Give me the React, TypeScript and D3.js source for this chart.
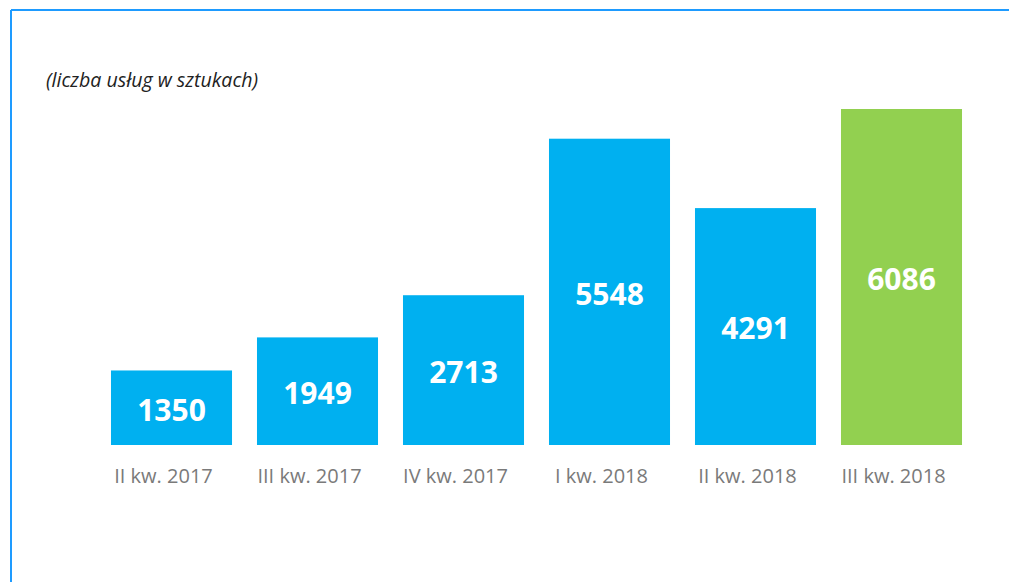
import React from "react";
import * as d3 from "d3";

const categories = ["II kw. 2017", "III kw. 2017", "IV kw. 2017", "I kw. 2018", "II kw. 2018", "III kw. 2018"];
const values = [1350, 1949, 2713, 5548, 4291, 6086];
const barColors = ["#00B0F0", "#00B0F0", "#00B0F0", "#00B0F0", "#00B0F0", "#92D050"];
const subtitle = "(liczba usług w sztukach)";

const W = 1009;
const H = 582;

export default function App() {
  const x = d3
    .scaleBand<string>()
    .domain(categories)
    .range([98.5, 974.5])
    .paddingInner(0.171)
    .paddingOuter(0.0855);
  const y = d3.scaleLinear().domain([0, 6086]).range([445, 109]);

  return (
    <svg
      width={W}
      height={H}
      style={{ position: "absolute", left: 0, top: 0, background: "#fff" }}
    >
      <line x1={11} y1={10} x2={W} y2={10} stroke="#1E9BFF" strokeWidth={2} />
      <line x1={11} y1={10} x2={11} y2={H} stroke="#1E9BFF" strokeWidth={2} />
      <text
        x={46}
        y={87}
        fontFamily="'Open Sans', sans-serif"
        fontStyle="italic"
        fontSize={19.6}
        fill="#222"
      >
        {subtitle}
      </text>
      {categories.map((c, i) => {
        const bx = x(c)!;
        const bw = x.bandwidth();
        const top = y(values[i]);
        const bottom = y(0);
        return (
          <g key={c}>
            <rect x={bx} y={top} width={bw} height={bottom - top} fill={barColors[i]} />
            <text
              x={bx + bw / 2}
              y={(top + bottom) / 2 + 2}
              dy="0.36em"
              textAnchor="middle"
              fontFamily="'Open Sans', sans-serif"
              fontWeight={700}
              fontSize={30}
              fill="#fff"
            >
              {values[i]}
            </text>
            <text
              x={bx + bw / 2 - 8}
              y={476}
              dy="0.36em"
              textAnchor="middle"
              fontFamily="'Open Sans', sans-serif"
              fontWeight={400}
              fontSize={20}
              fill="#7a7a7a"
            >
              {c}
            </text>
          </g>
        );
      })}
    </svg>
  );
}
